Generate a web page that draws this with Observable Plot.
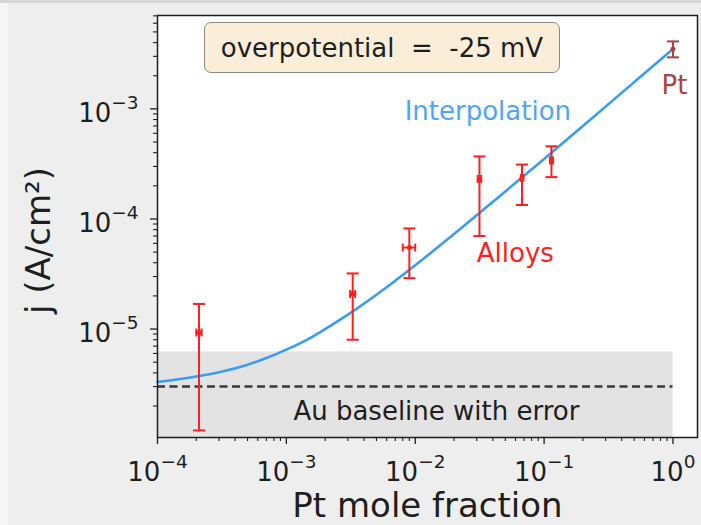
<!DOCTYPE html>
<html>
<head>
<meta charset="utf-8">
<script src="https://cdn.jsdelivr.net/npm/d3@7"></script>
<script src="https://cdn.jsdelivr.net/npm/@observablehq/plot@0.6"></script>
<style>
  html, body { margin: 0; padding: 0; background: #eeeeee; }
  #wrap { position: relative; width: 701px; height: 525px; overflow: hidden; font-family: "DejaVu Sans", sans-serif; }
  #topband { position: absolute; left: 0; top: 0; width: 701px; height: 3px; background: #d6d6d6; }
  #leftband { position: absolute; left: 0; top: 3px; width: 8px; height: 522px; background: #f6f6f6; }
  #chart { position: absolute; left: 0; top: 0; }
  #note {
    position: absolute; left: 204px; top: 22px; width: 356px; height: 51px;
    box-sizing: border-box; border: 1.5px solid #8a8a8a; border-radius: 7px;
    background: #faeed9; color: #1e1e1e; font-size: 26px;
    display: flex; align-items: center; justify-content: center; white-space: pre;
  }
</style>
</head>
<body>
<div id="wrap">
  <div id="topband"></div>
  <div id="leftband"></div>
  <div id="chart"></div>
  <div id="note">overpotential  =  -25 mV</div>
</div>
<script>
// Measured alloy current densities (A/cm²) vs Pt mole fraction
const alloyX     = [2.1e-4, 3.27e-3, 9.0e-3, 3.15e-2, 6.74e-2, 0.114];
const alloyXLow  = [2.0e-4, 3.12e-3, 8.0e-3, 3.05e-2, 6.6e-2, 0.111];
const alloyXHigh = [2.2e-4, 3.42e-3, 1.0e-2, 3.25e-2, 6.9e-2, 0.117];
const alloyJ     = [9.3e-6, 2.08e-5, 5.5e-5, 2.31e-4, 2.36e-4, 3.4e-4];
const alloyJLow  = [1.2e-6, 8.0e-6, 2.9e-5, 7.0e-5, 1.34e-4, 2.4e-4];
const alloyJHigh = [1.69e-5, 3.2e-5, 8.2e-5, 3.7e-4, 3.12e-4, 4.57e-4];

// Pure Pt reference
const ptX = [1.0];
const ptJ = [3.5e-3];
const ptJLow = [2.94e-3];
const ptJHigh = [4.1e-3];

// Au baseline and its error, over the composition range
const auBaseline = 3.0e-6;
const auError = 3.2e-6;
const compositionRange = [1e-4, 1.0];

// Interpolation curve
const interpX = [1e-4, 2e-4, 3e-4, 5e-4, 7e-4, 1e-3, 1.5e-3, 2e-3, 3e-3, 5e-3, 1e-2, 2e-2, 5e-2, 1e-1, 2e-1, 5e-1, 1.0];
const interpJ = [3.3e-6, 3.7e-6, 4.05e-6, 4.75e-6, 5.45e-6, 6.5e-6, 8.2e-6, 1.0e-5, 1.35e-5, 2.05e-5, 3.8e-5, 7.3e-5, 1.78e-4, 3.5e-4, 7.0e-4, 1.75e-3, 3.5e-3];

// Axis ticks
const xTickValues = [1e-4, 1e-3, 1e-2, 1e-1, 1];
const xTickLabels = ["10^\u22124", "10^\u22123", "10^\u22122", "10^\u22121", "10^0"];
const yTickValues = [1e-5, 1e-4, 1e-3];
const yTickLabels = ["10^\u22125", "10^\u22124", "10^\u22123"];

const xDomain = [1e-4, 1.55];
const yDomain = [1.035e-6, 7.05e-3];

// Minor ticks at 2..9 within each decade
function minorTicks([lo, hi]) {
  const out = [];
  for (let e = Math.floor(Math.log10(lo)); e <= Math.ceil(Math.log10(hi)); e++) {
    for (let m = 2; m <= 9; m++) {
      const v = m * Math.pow(10, e);
      if (v >= lo && v <= hi) out.push(v);
    }
  }
  return out;
}

const alloys = alloyX.map((x, i) => ({
  x, xlo: alloyXLow[i], xhi: alloyXHigh[i], j: alloyJ[i], lo: alloyJLow[i], hi: alloyJHigh[i]
}));
const pt = ptX.map((x, i) => ({x, j: ptJ[i], lo: ptJLow[i], hi: ptJHigh[i]}));
const interp = interpX.map((x, i) => ({x, j: interpJ[i]}));
const auBand = [{x1: compositionRange[0], x2: compositionRange[1], lo: yDomain[0], hi: auBaseline + auError}];
const auLine = [{x1: compositionRange[0], x2: compositionRange[1], j: auBaseline}];

// Error-bar caps as custom symbols
const hCap = {draw(ctx, size) { const w = Math.sqrt(size / Math.PI); ctx.moveTo(-w, 0); ctx.lineTo(w, 0); }};
const vCap = {draw(ctx, size) { const h = Math.sqrt(size / Math.PI); ctx.moveTo(0, -h); ctx.lineTo(0, h); }};

const RED = "#ff1f1f";
const BROWN = "#a54545";
const BLUE = "#3a9cf2";
const INK = "#1e1e1e";

function errorBars(data, color, withX) {
  const marks = [
    Plot.ruleX(data, {x: "x", y1: "lo", y2: "hi", stroke: color, strokeWidth: 2}),
    Plot.dot(data, {x: "x", y: "lo", symbol: hCap, r: 6, stroke: color, strokeWidth: 2, fill: "none"}),
    Plot.dot(data, {x: "x", y: "hi", symbol: hCap, r: 6, stroke: color, strokeWidth: 2, fill: "none"})
  ];
  if (withX) {
    marks.push(
      Plot.ruleY(data, {y: "j", x1: "xlo", x2: "xhi", stroke: color, strokeWidth: 2}),
      Plot.dot(data, {x: "xlo", y: "j", symbol: vCap, r: 4, stroke: color, strokeWidth: 2, fill: "none"}),
      Plot.dot(data, {x: "xhi", y: "j", symbol: vCap, r: 4, stroke: color, strokeWidth: 2, fill: "none"})
    );
  }
  marks.push(Plot.dot(data, {x: "x", y: "j", r: 2.5, fill: color, stroke: "none"}));
  return marks;
}

const chart = Plot.plot({
  width: 701,
  height: 525,
  marginLeft: 157,
  marginRight: 4,
  marginTop: 15,
  marginBottom: 88,
  style: {background: "transparent", fontFamily: "DejaVu Sans, sans-serif", fontSize: "26px", color: INK},
  x: {type: "log", domain: xDomain},
  y: {type: "log", domain: yDomain},
  marks: [
    Plot.frame({fill: "white", stroke: "none"}),
    Plot.rect(auBand, {x1: "x1", x2: "x2", y1: "lo", y2: "hi", fill: "#e3e3e3"}),
    Plot.ruleY(auLine, {y: "j", x1: "x1", x2: "x2", stroke: "#383838", strokeWidth: 2.5, strokeDasharray: "8,4.5"}),
    Plot.line(interp, {x: "x", y: "j", stroke: BLUE, strokeWidth: 2.6, curve: "monotone-x"}),
    ...errorBars(alloys, RED, true),
    ...errorBars(pt, BROWN, false),
    Plot.text(["Interpolation"], {x: 3.66e-2, y: 9.4e-4, fill: "#4fa6f7", fontSize: 26}),
    Plot.text(["Alloys"], {x: 5.98e-2, y: 4.86e-5, fill: RED, fontSize: 26}),
    Plot.text(["Pt"], {x: 1.027, y: 1.63e-3, fill: BROWN, fontSize: 26}),
    Plot.text(["Au baseline with error"], {x: 1.46e-2, y: 1.77e-6, fill: INK, fontSize: 26}),
    Plot.frame({stroke: INK, strokeWidth: 1.5}),
    Plot.axisX(xTickValues, {tickSize: 7, tickPadding: 18, strokeWidth: 1.3, label: null, fontSize: 26,
      tickFormat: d => xTickLabels[xTickValues.indexOf(d)]}),
    Plot.axisX(minorTicks(xDomain), {tickSize: 4, strokeWidth: 1.1, label: null, tickFormat: () => ""}),
    Plot.axisY(yTickValues, {tickSize: 7, tickPadding: 12, strokeWidth: 1.3, label: null, fontSize: 26,
      tickFormat: d => yTickLabels[yTickValues.indexOf(d)]}),
    Plot.axisY(minorTicks(yDomain), {tickSize: 4, strokeWidth: 1.1, label: null, tickFormat: () => ""}),
    Plot.text(["Pt mole fraction"], {frameAnchor: "bottom", dy: 79, fontSize: 34, fill: INK}),
    Plot.text(["j (A/cm\u00b2)"], {frameAnchor: "left", textAnchor: "middle", rotate: -90, dx: -118, dy: 14, fontSize: 34, fill: INK})
  ]
});

// Render "10^e" tick labels as base with a raised, smaller exponent
chart.querySelectorAll("text").forEach(t => {
  const s = t.textContent;
  if (!s.includes("^")) return;
  const [base, exp] = s.split("^");
  const isY = !!t.closest('[aria-label^="y-axis"]');
  t.textContent = "";
  const ns = "http://www.w3.org/2000/svg";
  const b = document.createElementNS(ns, "tspan");
  b.textContent = base;
  if (isY) b.setAttribute("dy", "5");
  const e = document.createElementNS(ns, "tspan");
  e.textContent = exp;
  e.setAttribute("font-size", "18.5");
  e.setAttribute("dy", "-13");
  t.append(b, e);
});

document.getElementById("chart").append(chart);
</script>
</body>
</html>
